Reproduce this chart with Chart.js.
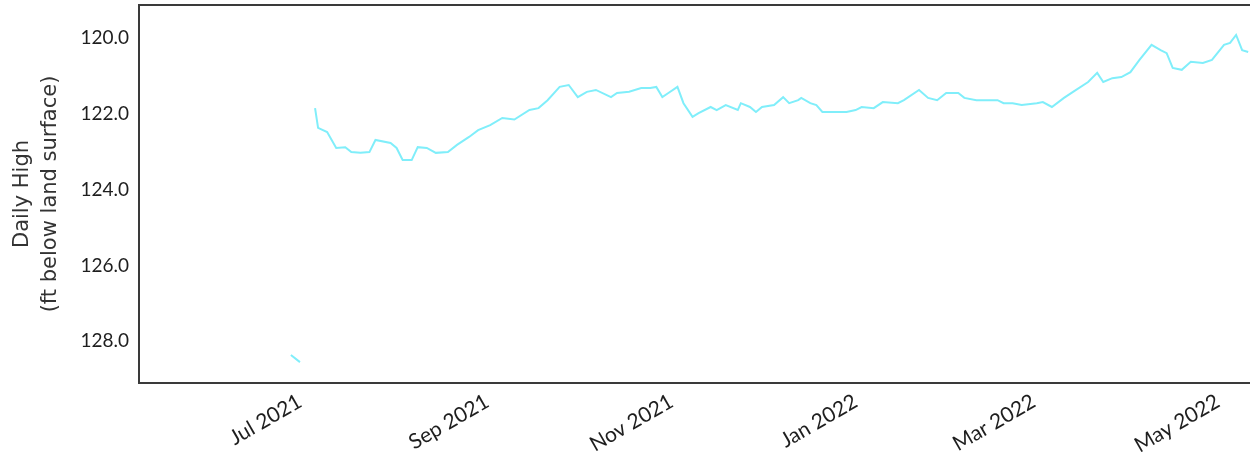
<!DOCTYPE html>
<html>
<head>
<meta charset="utf-8">
<script src="https://cdn.jsdelivr.net/npm/chart.js@4/dist/chart.umd.min.js"></script>
<style>
  html, body { margin: 0; padding: 0; background: #fff; }
  #wrap { width: 1250px; height: 461px; }
</style>
</head>
<body>
<div id="wrap"><canvas id="chart" width="1250" height="461"></canvas></div>
<script>
'use strict';

// ── DATA ───────────────────────────────────────────────────
// daily high water level, ft below land surface (null = gap in record)
const DATES = [
  '2021-06-28', '2021-07-01', '2021-07-03',
  '2021-07-06', '2021-07-07', '2021-07-10', '2021-07-13', '2021-07-16', '2021-07-18',
  '2021-07-21', '2021-07-24', '2021-07-26', '2021-07-31', '2021-08-02', '2021-08-04',
  '2021-08-07', '2021-08-09', '2021-08-12', '2021-08-15', '2021-08-19', '2021-08-22',
  '2021-08-26', '2021-08-29', '2021-09-02', '2021-09-06', '2021-09-10', '2021-09-15',
  '2021-09-18', '2021-09-21', '2021-09-25',
  '2021-09-28', '2021-10-01', '2021-10-04', '2021-10-07', '2021-10-12', '2021-10-14',
  '2021-10-18', '2021-10-22', '2021-10-25', '2021-10-27', '2021-10-29', '2021-10-31',
  '2021-11-03', '2021-11-05', '2021-11-08', '2021-11-10', '2021-11-14', '2021-11-16',
  '2021-11-19', '2021-11-23', '2021-11-24', '2021-11-27', '2021-11-29', '2021-12-01',
  '2021-12-05', '2021-12-08', '2021-12-10', '2021-12-13', '2021-12-14', '2021-12-17',
  '2021-12-19', '2021-12-21', '2021-12-26', '2021-12-29', '2022-01-01', '2022-01-03',
  '2022-01-07', '2022-01-10', '2022-01-15', '2022-01-17', '2022-01-22', '2022-01-25',
  '2022-01-28', '2022-01-31', '2022-02-04', '2022-02-06', '2022-02-10', '2022-02-13',
  '2022-02-17', '2022-02-19', '2022-02-22', '2022-02-25', '2022-03-02', '2022-03-04',
  '2022-03-07', '2022-03-11', '2022-03-14', '2022-03-19', '2022-03-22', '2022-03-24',
  '2022-03-27', '2022-03-30', '2022-04-02', '2022-04-05', '2022-04-09', '2022-04-12',
  '2022-04-14', '2022-04-16', '2022-04-19', '2022-04-22', '2022-04-26', '2022-04-29',
  '2022-05-03', '2022-05-05', '2022-05-07', '2022-05-09', '2022-05-11'
];
const LEVELS = [
  128.36, 128.55, null,
  121.85, 122.37, 122.48, 122.90, 122.88, 123.01,
  123.03, 123.01, 122.69, 122.77, 122.90, 123.22,
  123.22, 122.88, 122.90, 123.03, 123.01, 122.82,
  122.61, 122.43, 122.30, 122.11, 122.15, 121.90,
  121.85, 121.64, 121.29,
  121.24, 121.56, 121.42, 121.37, 121.56, 121.45,
  121.42, 121.32, 121.32, 121.29, 121.56, 121.45,
  121.29, 121.72, 122.08, 121.98, 121.82, 121.90,
  121.77, 121.90, 121.72, 121.82, 121.95, 121.82,
  121.77, 121.56, 121.72, 121.64, 121.58, 121.72,
  121.77, 121.95, 121.95, 121.95, 121.90, 121.82,
  121.85, 121.69, 121.72, 121.64, 121.37, 121.58,
  121.64, 121.45, 121.45, 121.58, 121.64, 121.64,
  121.64, 121.72, 121.72, 121.77, 121.72, 121.69,
  121.82, 121.58, 121.42, 121.16, 120.92, 121.16,
  121.06, 121.03, 120.90, 120.58, 120.18, 120.32,
  120.40, 120.79, 120.84, 120.63, 120.66, 120.58,
  120.18, 120.13, 119.92, 120.32, 120.37
];

const X_TICK_DATES = ['2021-07-01', '2021-09-01', '2021-11-01', '2022-01-01', '2022-03-01', '2022-05-01'];
const X_TICK_LABELS = ['Jul 2021', 'Sep 2021', 'Nov 2021', 'Jan 2022', 'Mar 2022', 'May 2022'];
const Y_TICKS = [120, 122, 124, 126, 128];

// ── HELPERS ────────────────────────────────────────────────
const EPOCH = Date.UTC(2021, 6, 1);
function dayNum(s) {
  const [y, m, d] = s.split('-').map(Number);
  return (Date.UTC(y, m - 1, d) - EPOCH) / 86400000;
}

// draws left / top / bottom frame of the plot area
const frame = {
  id: 'frame',
  afterDraw(chart) {
    const { ctx, chartArea: a } = chart;
    ctx.save();
    ctx.strokeStyle = '#3a3a3a';
    ctx.lineWidth = 2;
    ctx.beginPath();
    ctx.moveTo(a.right + 2, a.top);
    ctx.lineTo(a.left, a.top);
    ctx.lineTo(a.left, a.bottom);
    ctx.lineTo(a.right + 2, a.bottom);
    ctx.stroke();
    ctx.restore();
  }
};

// ── CHART ──────────────────────────────────────────────────
new Chart(document.getElementById('chart'), {
  type: 'line',
  data: {
    datasets: [{
      data: DATES.map((d, i) => ({ x: dayNum(d), y: LEVELS[i] })),
      borderColor: 'rgb(128, 238, 250)',
      borderWidth: 2,
      pointRadius: 0,
      tension: 0,
      spanGaps: false
    }]
  },
  options: {
    responsive: false,
    animation: false,
    devicePixelRatio: 1,
    layout: { padding: { top: 5, right: 0, bottom: 0, left: 0 } },
    plugins: { legend: { display: false }, tooltip: { enabled: false } },
    scales: {
      x: {
        type: 'linear',
        min: -53.3,
        max: 314.6,
        grid: { display: false, drawTicks: false },
        border: { display: false },
        afterBuildTicks: axis => { axis.ticks = X_TICK_DATES.map(d => ({ value: dayNum(d) })); },
        afterFit: axis => { axis.height = 78; axis.paddingLeft = 0; axis.paddingRight = 0; },
        ticks: {
          autoSkip: false,
          minRotation: 30,
          maxRotation: 30,
          padding: 6,
          color: '#1e1e1e',
          font: { family: 'Lato', size: 21 },
          callback: (v, i) => X_TICK_LABELS[i]
        }
      },
      y: {
        reverse: true,
        min: 119.13,
        max: 129.1,
        grid: { display: false, drawTicks: false },
        border: { display: false },
        afterBuildTicks: axis => { axis.ticks = Y_TICKS.map(v => ({ value: v })); },
        afterFit: axis => { axis.width = 139; axis.paddingTop = 0; axis.paddingBottom = 0; },
        ticks: {
          padding: 10,
          color: '#1e1e1e',
          font: { family: 'Lato', size: 19 },
          callback: v => v.toFixed(1)
        },
        title: {
          display: true,
          text: ['Daily High', '(ft below land surface)'],
          color: '#333',
          padding: { top: 8, bottom: 0 },
          font: { family: 'DejaVu Sans', size: 21, lineHeight: 1.35 }
        }
      }
    }
  },
  plugins: [frame]
});
</script>
</body>
</html>
